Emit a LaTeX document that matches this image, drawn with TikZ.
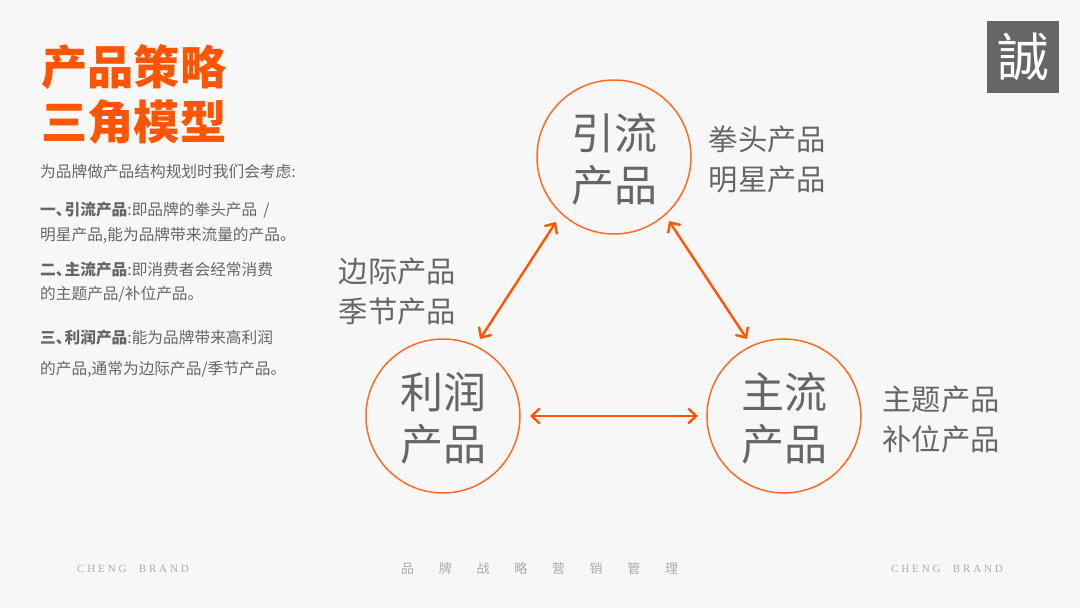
\documentclass[tikz,border=0pt]{standalone}
\usepackage{fontspec}
\usetikzlibrary{arrows.meta,positioning}
\setmainfont{Liberation Serif}
\newfontfamily\cjk{Noto Sans CJK SC}
\newfontfamily\cjkspaced[LetterSpace=190]{Noto Sans CJK SC}
\newfontfamily\latinspaced[LetterSpace=26,WordSpace=2.2]{Liberation Serif}
\newfontfamily\seal{Noto Sans CJK TC}
\definecolor{pagebg}{HTML}{F7F7F7}
\definecolor{brandorange}{HTML}{FF5500}
\definecolor{circleorange}{HTML}{FF6A26}
\definecolor{textgray}{HTML}{666666}
\definecolor{footgray}{HTML}{ABABAB}
\newcommand{\headkern}{\kern-7pt\relax}
\tikzset{
  title/.style={anchor=west, inner sep=0pt, text=brandorange, font=\cjk\fontsize{46.3}{47}\selectfont\bfseries},
  body/.style={anchor=west, inner sep=0pt, text=textgray, font=\cjk\fontsize{15.7}{16}\selectfont},
  product/.style={circle, draw=circleorange, line width=1.5pt, fill=none, minimum size=154pt, inner sep=0pt, align=center, text=textgray, font=\cjk\fontsize{43}{52}\selectfont},
  side/.style={inner sep=0pt, align=left, text=textgray, font=\cjk\fontsize{29.3}{39.5}\selectfont},
  foot/.style={inner sep=0pt, text=footgray},
  arrow/.style={{Straight Barb[length=8pt,width=15pt]}-{Straight Barb[length=8pt,width=15pt]}, line width=2.4pt, draw=brandorange}
}
\begin{document}
\begin{tikzpicture}[x=1pt,y=-1pt]
  \fill[pagebg] (0,0) rectangle (1080,608);
  \useasboundingbox (0,0) rectangle (1080,608);

  \node[title] (title1) at (41,67) {产品策略};
  \node[title] (title2) at (41,122) {三角模型};

  \node[body] (intro) at (40,171.5) {为品牌做产品结构规划时我们会考虑:};
  \node[body] (one1) at (40,210.5) {\textbf{一、\headkern 引流产品}:即品牌的拳头产品\ \,/};
  \node[body] (one2) at (40,235.5) {明星产品,能为品牌带来流量的产品。};
  \node[body] (two1) at (40,269.5) {\textbf{二、\headkern 主流产品}:即消费者会经常消费};
  \node[body] (two2) at (40,294.5) {的主题产品/补位产品。};
  \node[body] (three1) at (40,337.5) {\textbf{三、\headkern 利润产品}:能为品牌带来高利润};
  \node[body] (three2) at (40,369.5) {的产品,通常为边际产品/季节产品。};

  \node[fill=textgray, minimum size=72pt, inner sep=0pt, text=white, font=\seal\fontsize{52}{52}\selectfont] (seal) at (1023,57) {誠};

  \node[product] (top) at (614,157) {\rule{0pt}{40pt}引流\\产品};
  \node[product] (left) at (443,416) {\rule{0pt}{40pt}利润\\产品};
  \node[product] (right) at (784,416) {\rule{0pt}{40pt}主流\\产品};

  \node[side] (topside) at (767.5,159.5) {拳头产品\\明星产品};
  \node[side] (leftside) at (397.5,291.5) {边际产品\\季节产品};
  \node[side] (rightside) at (941,419.5) {主题产品\\补位产品};

  \coordinate (topl) at (556,222);
  \coordinate (leftt) at (480,339);
  \coordinate (topr) at (669,221);
  \coordinate (rightt) at (747,339);
  \coordinate (leftr) at (530,416);
  \coordinate (rightl) at (698,416);
  \draw[arrow] (topl)--(leftt);
  \draw[arrow] (topr)--(rightt);
  \draw[arrow] (leftr)--(rightl);

  \coordinate (rulel) at (45,542);
  \coordinate (ruler) at (1032,542);
  \draw[draw=black!5, line width=0.6pt] (rulel)--(ruler);

  \node[foot, anchor=west, font=\latinspaced\fontsize{11}{12}\selectfont] (footl) at (77,569) {CHENG BRAND};
  \node[foot, anchor=west, font=\cjkspaced\fontsize{13}{14}\selectfont] (footm) at (401,569) {品牌战略营销管理};
  \node[foot, anchor=west, font=\latinspaced\fontsize{11}{12}\selectfont] (footr) at (891,569) {CHENG BRAND};
\end{tikzpicture}
\end{document}
